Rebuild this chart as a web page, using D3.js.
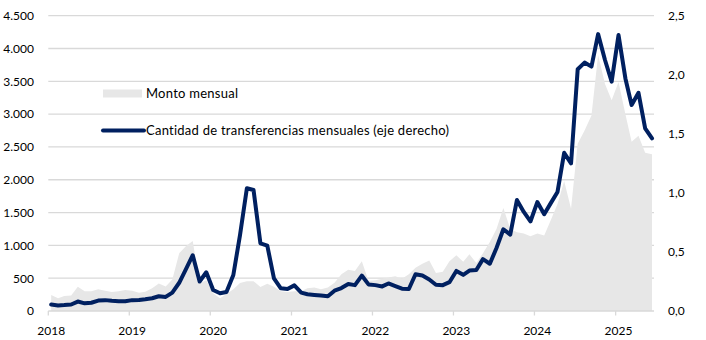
<!DOCTYPE html>
<html>
<head>
<meta charset="utf-8">
<script src="https://cdn.jsdelivr.net/npm/d3@7"></script>
<style>
  html, body { margin: 0; padding: 0; background: #fff; }
  svg { display: block; }
  text { font-family: Lato, "Open Sans", sans-serif; fill: #000; }
</style>
</head>
<body>
<svg id="chart" width="706" height="340"></svg>
<script>
// ---- DATA (monthly, Jan 2018 – Jun 2025) ----
const startYear = 2018;
const montoMensual = [
  245, 195, 230, 235, 370, 300, 300, 330, 310, 290, 300, 320,
  310, 280, 295, 345, 420, 375, 480, 880, 990, 1065, 420, 470,
  270, 195, 260, 330, 425, 455, 455, 365, 415, 370, 300, 290,
  300, 300, 345, 360, 330, 360, 430, 560, 630, 610, 760, 460,
  470, 490, 510, 530, 490, 560, 660, 720, 770, 580, 600, 760,
  850, 750, 865, 730, 880, 1050, 1250, 1570, 1250, 1200, 1180, 1140,
  1180, 1150, 1380, 1630, 1980, 1560, 2550, 2750, 2980, 3900, 3460, 3210,
  3490, 3000, 2580, 2670, 2410, 2390
];
const cantidadTransferencias = [
  0.055, 0.047, 0.05, 0.055, 0.08, 0.065, 0.07, 0.088, 0.092, 0.086, 0.083, 0.083,
  0.092, 0.094, 0.1, 0.108, 0.125, 0.119, 0.156, 0.239, 0.356, 0.472, 0.25, 0.328,
  0.178, 0.15, 0.161, 0.305, 0.643, 1.039, 1.024, 0.573, 0.553, 0.277, 0.192, 0.186,
  0.217, 0.156, 0.142, 0.136, 0.131, 0.125, 0.172, 0.194, 0.228, 0.219, 0.3, 0.225,
  0.219, 0.208, 0.233, 0.211, 0.189, 0.186, 0.311, 0.3, 0.267, 0.222, 0.219, 0.244,
  0.339, 0.306, 0.342, 0.347, 0.439, 0.4, 0.533, 0.692, 0.647, 0.939, 0.839, 0.758,
  0.922, 0.819, 0.911, 1.008, 1.339, 1.25, 2.047, 2.103, 2.069, 2.344, 2.125, 1.942,
  2.336, 1.969, 1.744, 1.847, 1.547, 1.461
];
const yearLabels = ["2018", "2019", "2020", "2021", "2022", "2023", "2024", "2025"];
const leftTicks = [0, 500, 1000, 1500, 2000, 2500, 3000, 3500, 4000, 4500];
const rightTicks = [0, 0.5, 1.0, 1.5, 2.0, 2.5];
const legendLabels = ["Monto mensual", "Cantidad de transferencias mensuales (eje derecho)"];

// ---- LAYOUT ----
const plotLeft = 48.3, plotRight = 654, plotTop = 15.7, plotBottom = 311;
const areaColor = "#e7e7e7", lineColor = "#002060", gridColor = "#d9d9d9";

const svg = d3.select("#chart");
const locale = d3.formatLocale({ decimal: ",", thousands: ".", grouping: [3], currency: ["", ""] });
const fmtLeft = locale.format(",.0f");
const fmtRight = locale.format(".1f");

const dates = montoMensual.map((_, i) => new Date(startYear, i, 14));
const data = dates.map((d, i) => ({ date: d, monto: montoMensual[i], cant: cantidadTransferencias[i] }));

const x = d3.scaleTime()
  .domain([new Date(2018, 0, 1), new Date(2025, 6, 1)])
  .range([plotLeft, 655.8]);
const yL = d3.scaleLinear().domain([0, 4500]).range([plotBottom, plotTop]);
const yR = d3.scaleLinear().domain([0, 2.5]).range([plotBottom, plotTop]);

// gridlines
svg.append("g").selectAll("line")
  .data(leftTicks.filter(t => t > 0))
  .join("line")
  .attr("x1", plotLeft).attr("x2", plotRight)
  .attr("y1", d => yL(d)).attr("y2", d => yL(d))
  .attr("stroke", gridColor).attr("stroke-width", 1.3);

// area
const area = d3.area()
  .x(d => x(d.date))
  .y0(yL(0))
  .y1(d => yL(d.monto));
svg.append("path").datum(data)
  .attr("d", area)
  .attr("fill", areaColor);

// baseline & ticks
svg.append("line")
  .attr("x1", plotLeft).attr("x2", plotRight)
  .attr("y1", plotBottom).attr("y2", plotBottom)
  .attr("stroke", gridColor).attr("stroke-width", 1.3);
const yearStarts = yearLabels.map(y => new Date(+y, 0, 1));
svg.append("g").selectAll("line")
  .data(yearStarts)
  .join("line")
  .attr("x1", d => x(d)).attr("x2", d => x(d))
  .attr("y1", plotBottom).attr("y2", plotBottom + 4.5)
  .attr("stroke", gridColor).attr("stroke-width", 1.3);

// line
const line = d3.line()
  .x(d => x(d.date))
  .y(d => yR(d.cant));
svg.append("path").datum(data)
  .attr("d", line)
  .attr("fill", "none")
  .attr("stroke", lineColor)
  .attr("stroke-width", 4)
  .attr("stroke-linejoin", "round")
  .attr("stroke-linecap", "round");

// left axis labels
svg.append("g").selectAll("text")
  .data(leftTicks)
  .join("text")
  .attr("x", 34).attr("y", d => yL(d))
  .attr("dy", "0.36em")
  .attr("text-anchor", "end")
  .attr("font-size", 12)
  .text(d => fmtLeft(d));

// right axis labels
svg.append("g").selectAll("text")
  .data(rightTicks)
  .join("text")
  .attr("x", 668).attr("y", d => yR(d))
  .attr("dy", "0.36em")
  .attr("text-anchor", "start")
  .attr("font-size", 12)
  .text(d => fmtRight(d));

// year labels
svg.append("g").selectAll("text")
  .data(yearLabels)
  .join("text")
  .attr("x", d => x(new Date(+d, 0, 14)))
  .attr("y", 334.5)
  .attr("text-anchor", "middle")
  .attr("font-size", 12)
  .text(d => d);

// legend
const lg = svg.append("g");
lg.append("rect")
  .attr("x", 103).attr("y", 89.5).attr("width", 39).attr("height", 8)
  .attr("fill", areaColor);
lg.append("text")
  .attr("x", 146).attr("y", 93.5).attr("dy", "0.36em")
  .attr("font-size", 13).attr("letter-spacing", 0.25)
  .text(legendLabels[0]);
lg.append("line")
  .attr("x1", 103).attr("x2", 144).attr("y1", 130.5).attr("y2", 130.5)
  .attr("stroke", lineColor).attr("stroke-width", 4).attr("stroke-linecap", "round");
lg.append("text")
  .attr("x", 146).attr("y", 130.5).attr("dy", "0.36em")
  .attr("font-size", 13).attr("letter-spacing", 0.25)
  .text(legendLabels[1]);
</script>
</body>
</html>
